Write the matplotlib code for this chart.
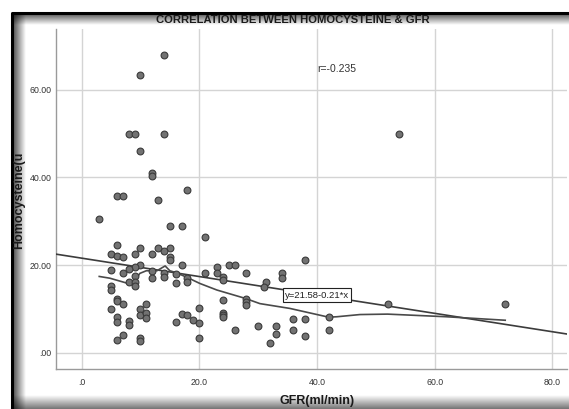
import numpy as np
import matplotlib
matplotlib.use('Agg')
import matplotlib.pyplot as plt
from matplotlib import font_manager

# GFR (ml/min) vs homocysteine
gfr = [14, 10, 8, 9, 14, 54, 10, 12, 12, 18, 6, 7, 13, 3, 15, 17, 21, 6, 10, 13,
       15, 14, 5, 9, 12, 6, 7, 15, 15, 10, 17, 25, 26, 38, 23, 9, 8, 5, 12, 7,
       14, 16, 21, 23, 28, 34, 34, 9, 12, 14, 18, 18, 24, 24, 8, 9, 16, 31.3, 31, 9,
       5, 5, 6, 6, 24, 28, 28, 28, 7, 11, 52, 72, 5, 10, 20, 10, 11, 11, 24, 24,
       24, 6, 17, 18, 42, 19, 36, 38, 6, 8, 16, 8, 20, 30, 33, 26, 36, 42, 33, 7,
       38, 6, 10, 10, 20, 32]
hcy = [68, 63.3, 50, 50, 50, 50, 46.1, 41, 40.4, 37.1, 35.7, 35.7, 34.8, 30.6, 28.9, 28.9, 26.4, 24.5, 24, 24,
       24, 23.1, 22.6, 22.6, 22.6, 22, 21.8, 21.9, 21.1, 20, 20, 20, 20, 21.1, 19.5, 19.5, 19, 18.8, 18.7, 18.1,
       18.1, 17.9, 18.1, 18.1, 18.1, 18.1, 17, 17.5, 17, 17.2, 17, 16.2, 17.3, 16.6, 16.1, 16.1, 15.8, 16.1, 15, 15.2,
       15.2, 14.4, 12.2, 11.7, 12, 12.2, 11.5, 10.9, 11.1, 11.1, 11.2, 11, 9.9, 9.9, 10.1, 8.6, 9, 7.8, 9.1, 8.6,
       8.1, 8.2, 8.8, 8.5, 8.1, 7.4, 7.6, 7.6, 7.1, 7.3, 7.1, 6.3, 6.7, 6, 6.2, 5.1, 5.1, 5.1, 4.3, 4,
       3.8, 3, 3.3, 2.7, 3.3, 2.2]

# fitted line and loess curve as shown in the chart
intercept, slope = 21.58, -0.21
r_value = -0.235
loess_x = [3, 4.8, 7.9, 9, 9.9, 11, 12.8, 14.2, 15, 16.2, 17.9, 20.1, 23, 27.8, 30.3, 35.4, 42, 43.4, 47.3, 52, 62, 72]
loess_y = [17.4, 17, 15.8, 16.4, 18.1, 18.7, 18.7, 19.8, 18.7, 18.2, 17.2, 15.8, 14.3, 12.4, 11.2, 10.1, 8.1, 8.2, 8.7, 8.8, 8.2, 7.4]

xticks = [0, 20, 40, 60, 80]
xticklabels = ['.0', '20.0', '40.0', '60.0', '80.0']
yticks = [0, 20, 40, 60]
yticklabels = ['.00', '20.00', '40.00', '60.00']

names = {f.name for f in font_manager.fontManager.ttflist}
narrow = 'Liberation Sans Narrow' if 'Liberation Sans Narrow' in names else 'Liberation Sans'
plt.rcParams['font.family'] = ['Liberation Sans', 'DejaVu Sans']

W, H = 569, 409
fig = plt.figure(figsize=(W / 100, H / 100), dpi=100)
fig.patch.set_facecolor('white')

# screenshot frame: black edge with soft inner shadow (pixel coordinates)
bg = fig.add_axes([0, 0, 1, 1])
ramp = np.linspace(0.7, 0.0, 64)
shade = np.zeros((1, 64, 4))
shade[..., 3] = ramp
bg.imshow(shade, extent=(13, 26, H, 13), aspect='auto', interpolation='bilinear')
bg.imshow(shade.transpose(1, 0, 2), extent=(13, W, 25, 13), aspect='auto', interpolation='bilinear')
bottom = np.zeros((64, 1, 4))
bottom[:, 0, 3] = np.linspace(0.0, 0.55, 64)
bg.imshow(bottom, extent=(13, W, H, 395), aspect='auto', interpolation='bilinear')
bg.plot([12.5, 12.5, W], [H, 12.5, 12.5], color='black', lw=2.2, solid_capstyle='butt')
bg.set_xlim(0, W)
bg.set_ylim(H, 0)
bg.axis('off')

ax = fig.add_axes([55.7 / W, 1 - 369.3 / H, (567 - 55.7) / W, (369.3 - 29) / H])
ax.set_xlim(-4.4, 82.5)
ax.set_ylim(-3.8, 73.9)
ax.set_xticks(xticks)
ax.set_xticklabels(xticklabels)
ax.set_yticks(yticks)
ax.set_yticklabels(yticklabels)
ax.tick_params(length=0, labelsize=6.3, colors='#333333')
ax.tick_params(axis='x', pad=6)
ax.tick_params(axis='y', pad=3)
ax.grid(True, color='#d4d4d4', lw=1.0)
ax.set_axisbelow(True)
for s in ['top', 'right']:
    ax.spines[s].set_visible(False)
for s in ['left', 'bottom']:
    ax.spines[s].set_color('#9a9a9a')
    ax.spines[s].set_linewidth(1.0)

xs = np.array(ax.get_xlim())
ax.plot(xs, intercept + slope * xs, color='#3c3c3c', lw=1.2, zorder=3)
ax.plot(loess_x, loess_y, color='#4a4a4a', lw=1.2, zorder=3)
ax.scatter(gfr, hcy, s=24, facecolor='#727272', edgecolor='#3a3a3a', linewidth=0.8, zorder=4)

ax.text(40, 64.8, f'r={r_value}', fontsize=7.5, color='#333333', ha='left', va='center',
        family=[narrow, 'DejaVu Sans'])
ax.text(40, 13.1, f'y={intercept}{slope}*x', fontsize=6.8, color='#222222', ha='center', va='center',
        family=[narrow, 'DejaVu Sans'], zorder=5,
        bbox=dict(boxstyle='square,pad=0.25', facecolor='white', edgecolor='#222222', lw=0.8))

fig.text(293 / W, 1 - 20 / H, 'CORRELATION BETWEEN HOMOCYSTEINE & GFR', ha='center', va='center',
         fontsize=8.1, fontweight='bold', family=[narrow, 'DejaVu Sans'], color='#1a1a1a')
fig.text(19 / W, 1 - 200 / H, 'Homocysteine(u', rotation=90, ha='center', va='center',
         fontsize=9, fontweight='bold', family=[narrow, 'DejaVu Sans'], color='#1a1a1a')
fig.text(317 / W, 1 - 401 / H, 'GFR(ml/min)', ha='center', va='center',
         fontsize=9, fontweight='bold', family=[narrow, 'DejaVu Sans'], color='#1a1a1a')

fig.savefig('out.png', dpi=100)
